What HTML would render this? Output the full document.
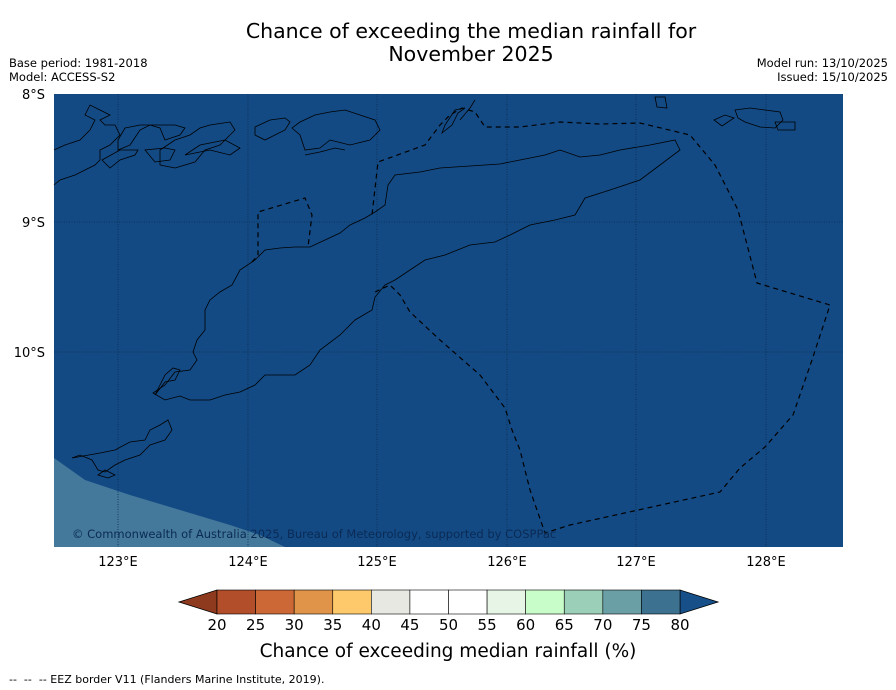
<!DOCTYPE html>
<html><head><meta charset="utf-8">
<style>
body{margin:0;background:#fff;font-family:"Liberation Sans","DejaVu Sans",sans-serif;}
#wrap{position:relative;width:896px;height:690px;overflow:hidden;}
.t{position:absolute;white-space:nowrap;}
</style></head>
<body>
<div id="wrap">
<div class="t" style="left:0;width:942px;top:20px;text-align:center;font-size:20.5px;line-height:23px;font-family:'DejaVu Sans',sans-serif;">Chance of exceeding the median rainfall for<br>November 2025</div>
<div class="t" style="left:9px;top:56px;font-size:11.5px;line-height:14px;font-family:'DejaVu Sans',sans-serif;">Base period: 1981-2018<br>Model: ACCESS-S2</div>
<div class="t" style="right:8px;top:56px;font-size:11.5px;line-height:14px;text-align:right;font-family:'DejaVu Sans',sans-serif;">Model run: 13/10/2025<br>Issued: 15/10/2025</div>
<svg id="svg" width="896" height="690" style="position:absolute;left:0;top:0" font-family="DejaVu Sans, sans-serif">
<g>
<rect x="54" y="94" width="789" height="453" fill="#134a84"/>
<polygon points="54,458 85,480 130,495 180,510 230,525 260,535 285,547 54,547" fill="#44799b"/>
<g stroke="#0b2a4a" stroke-width="0.8" stroke-dasharray="1,1.5">
<line x1="118" y1="94" x2="118" y2="547"/><line x1="248" y1="94" x2="248" y2="547"/><line x1="377" y1="94" x2="377" y2="547"/><line x1="507" y1="94" x2="507" y2="547"/><line x1="636" y1="94" x2="636" y2="547"/><line x1="766" y1="94" x2="766" y2="547"/>
<line x1="54" y1="222" x2="843" y2="222"/><line x1="54" y1="352" x2="843" y2="352"/>
</g>
<g fill="none" stroke="#000" stroke-width="0.8">
<path d="M153,393 L165,385 L175,372 L190,370 L197,360 L193,352 L197,340 L205,330 L205,310 L210,300 L220,292 L232,285 L240,270 L255,260 L265,250 L280,248 L295,247 L310,247 L325,240 L340,233 L350,225 L365,218 L375,212 L385,205 L388,185 L395,175 L420,172 L440,168 L470,166 L500,164 L520,160 L545,155 L560,150 L580,157 L600,155 L620,150 L650,145 L675,140 L680,150 L660,165 L640,180 L610,190 L585,198 L575,215 L555,220 L530,225 L510,235 L495,242 L470,245 L445,255 L425,260 L410,270 L395,280 L385,285 L375,297 L372,310 L355,320 L340,335 L320,350 L310,365 L295,375 L265,375 L255,385 L240,392 L225,395 L210,400 L190,400 L180,396 L165,400 Z"/>
<path d="M155,395 L165,382 L175,380 L180,370 L173,368 L165,375 L160,385 Z"/>
<path d="M54,185 L60,180 L75,175 L85,170 L95,165 L100,160 L100,150 L110,145 L120,135 L115,125 L105,125 L100,120 L110,115 L100,110 L90,105 L85,115 L95,120 L90,130 L80,140 L65,145 L54,150"/>
<path d="M118,150 L130,145 L140,130 L150,125 L160,128 L165,140 L180,135 L185,128 L175,125 L160,125 L140,125 L125,128 L118,140 Z"/>
<path d="M102,160 L110,168 L120,160 L135,155 L138,150 L120,150 Z"/>
<path d="M160,165 L175,168 L195,162 L205,150 L220,145 L235,130 L230,122 L210,125 L200,128 L190,135 L175,140 L160,150 Z"/>
<path d="M145,150 L155,162 L170,160 L175,150 L165,148 Z"/>
<path d="M255,135 L265,140 L285,130 L290,122 L285,118 L270,120 L255,127 Z"/>
<path d="M185,155 L210,150 L230,155 L240,148 L225,140 L200,145 Z"/>
<path d="M292,128 L300,135 L305,150 L320,148 L330,140 L350,145 L370,140 L380,130 L375,120 L360,115 L345,110 L330,112 L315,115 L300,122 Z"/>
<path d="M305,155 L320,152 L335,148 L345,150"/>
<path d="M460,120 L470,108 L475,100"/>
<path d="M442,133 L452,125 L458,113 L465,108 L455,110 L445,125 Z"/>
<path d="M735,110 L750,108 L765,110 L780,112 L783,120 L775,128 L760,127 L745,122 L738,118 Z"/>
<path d="M775,122 L795,122 L795,130 L778,130 Z"/>
<path d="M655,97 L665,97 L667,108 L657,107 Z"/>
<path d="M714,120 L725,115 L734,118 L722,126 Z"/>
<path d="M72,458 L80,455 L92,460 L98,470 L105,472 L115,465 L125,460 L140,455 L150,445 L165,440 L172,430 L168,420 L160,425 L150,430 L145,440 L130,442 L115,450 L100,453 Z"/>
<path d="M98,475 L108,478 L115,475 L105,470 Z"/>
</g>
<g fill="none" stroke="#000" stroke-width="1.2" stroke-dasharray="5,4">
<path d="M375,292 L390,285 L400,295 L410,312 L440,340 L480,375 L505,408 L512,430 L520,450 L530,490 L545,533 L570,525 L720,492 L740,468 L765,447 L793,415 L812,360 L830,305 L757,283 L738,210 L715,165 L690,135 L640,123 L600,124 L560,122 L520,127 L485,127 L475,112 L462,108 L450,115 L440,125 L425,145 L378,162 L372,215"/>
<path d="M252,262 L258,255 L258,212 L305,198 L312,215 L308,247"/>
</g>
<text x="72" y="538" font-size="11.5" fill="#0b2a55">© Commonwealth of Australia 2025, Bureau of Meteorology, supported by COSPPac</text>
</g>
<g font-size="13" fill="#000">
<text x="45" y="99" text-anchor="end">8°S</text>
<text x="45" y="227" text-anchor="end">9°S</text>
<text x="45" y="357" text-anchor="end">10°S</text>
<text x="118" y="566" text-anchor="middle">123°E</text>
<text x="248" y="566" text-anchor="middle">124°E</text>
<text x="377" y="566" text-anchor="middle">125°E</text>
<text x="507" y="566" text-anchor="middle">126°E</text>
<text x="636" y="566" text-anchor="middle">127°E</text>
<text x="766" y="566" text-anchor="middle">128°E</text>
</g>
<g id="cbar"></g>
<text x="448" y="657" font-size="18.5" text-anchor="middle">Chance of exceeding median rainfall (%)</text>
<text x="9" y="683" font-size="11" xml:space="preserve">--  --  -- EEZ border V11 (Flanders Marine Institute, 2019).</text>
</svg>
</div>
<script>
const levels=[20,25,30,35,40,45,50,55,60,65,70,75,80];
const binColors=["#b24e2a","#cc6835","#e0944a","#fdc96a","#e8e8e2","#ffffff","#ffffff","#e6f5e6","#c8fcc8","#9bcfb7","#6a9fa5","#3c718f"];
const underColor="#8e3a1e", overColor="#174f89";
const x0=217,x1=680,y0=590,h=24;
const sx=v=>x0+(v-levels[0])/(levels[levels.length-1]-levels[0])*(x1-x0);
const g=document.getElementById('cbar');const NS="http://www.w3.org/2000/svg";
function mk(t,a){const e=document.createElementNS(NS,t);for(const k in a)e.setAttribute(k,a[k]);g.appendChild(e);return e;}
let e=mk('polygon',{points:`${x0},${y0} ${x0},${y0+h} 179,${y0+h/2}`,fill:underColor,stroke:"#000","stroke-width":0.8});


e=mk('polygon',{points:`${x1},${y0} ${x1},${y0+h} 718,${y0+h/2}`,fill:overColor,stroke:"#000","stroke-width":0.8});


for(let i=0;i<binColors.length;i++){
 e=mk('rect',{x:sx(levels[i]),y:y0,width:sx(levels[i+1])-sx(levels[i]),height:h,fill:binColors[i],stroke:"#000","stroke-width":0.6});
 
 
}
for(const v of levels){
 e=mk('text',{x:sx(v),y:630,"font-size":15,"text-anchor":"middle"});e.textContent=v;
 
 
}
</script>
</body></html>
